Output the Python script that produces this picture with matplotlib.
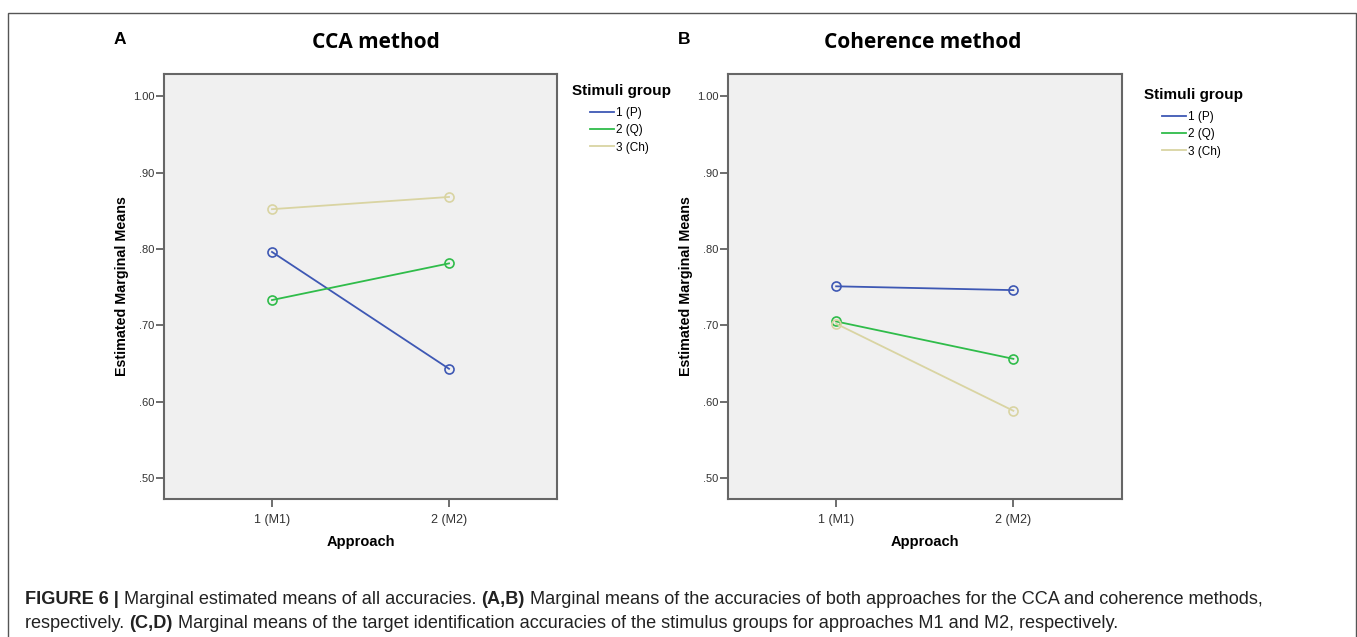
import matplotlib
matplotlib.use("Agg")
import matplotlib.pyplot as plt
from matplotlib.patches import Rectangle

# ---- data ----
approaches = ["1 (M1)", "2 (M2)"]
groups = ["1 (P)", "2 (Q)", "3 (Ch)"]
cca_P = [0.796, 0.643]
cca_Q = [0.733, 0.781]
cca_Ch = [0.852, 0.868]
coh_P = [0.751, 0.746]
coh_Q = [0.705, 0.656]
coh_Ch = [0.702, 0.588]
yticks = [0.50, 0.60, 0.70, 0.80, 0.90, 1.00]
ytick_labels = [".50", ".60", ".70", ".80", ".90", "1.00"]

colors = ["#3e58b4", "#2fbc4a", "#d9d4a2"]

W, H = 1357, 637
fig = plt.figure(figsize=(W / 100, H / 100), dpi=100)
fig.patch.set_facecolor("white")

# outer frame
fig.patches.append(Rectangle((8 / W, -0.01), (1356 - 8) / W, 1 - 12.7 / H + 0.01,
                             transform=fig.transFigure, fill=False,
                             edgecolor="#555555", linewidth=1.0))

panels = [
    dict(left=164, right=557, series=[cca_P, cca_Q, cca_Ch], title="CCA method",
         tx=376, letter="A", lx=120, legx=572, legy=91),
    dict(left=728, right=1121.5, series=[coh_P, coh_Q, coh_Ch], title="Coherence method",
         tx=923, letter="B", lx=684, legx=1144, legy=95),
]

top_px, bot_px = 74, 499
x = [1, 2]
for p in panels:
    ax = fig.add_axes([p["left"] / W, 1 - bot_px / H, (p["right"] - p["left"]) / W,
                       (bot_px - top_px) / H])
    ax.set_facecolor("#f0f0f0")
    lines = []
    for vals, c, g in zip(p["series"], colors, groups):
        ln, = ax.plot(x, vals, color=c, linewidth=1.3, marker="o", markersize=6.5,
                      markerfacecolor="none", markeredgecolor=c, markeredgewidth=1.2,
                      label=g)
        lines.append(ln)
    ax.set_xlim(0.39, 2.61)
    ax.set_ylim(0.4725, 1.029)
    ax.set_xticks(x)
    ax.set_xticklabels(approaches, fontsize=9, family="Liberation Sans", color="#333333")
    ax.set_yticks(yticks)
    ax.set_yticklabels(ytick_labels, fontsize=8, family="Liberation Sans", color="#333333")
    ax.tick_params(axis="both", direction="out", length=6, width=1.2, color="#555555",
                   top=False, right=False)
    ax.tick_params(axis="x", pad=5)
    ax.tick_params(axis="y", pad=1)
    for s in ax.spines.values():
        s.set_color("#666666")
        s.set_linewidth(1.5)
    ax.set_xlabel("Approach", fontsize=10.5, fontweight="bold", family="Liberation Sans",
                  labelpad=6)
    ax.set_ylabel("Estimated Marginal Means", fontsize=10.3, fontweight="bold",
                  family="Liberation Sans", labelpad=3)
    fig.text(p["tx"] / W, 1 - 42 / H, p["title"], ha="center", va="center",
             fontsize=15, fontweight="bold", family="Open Sans")
    fig.text(p["lx"] / W, 1 - 40 / H, p["letter"], ha="center", va="center",
             fontsize=12.5, fontweight="bold", family="Liberation Sans")
    fig.text(p["legx"] / W, 1 - p["legy"] / H, "Stimuli group", ha="left", va="center",
             fontsize=11, fontweight="bold", family="Liberation Sans")
    ax.legend(handles=lines, loc="upper left",
              bbox_to_anchor=((p["legx"] + 18) / W, 1 - (p["legy"] + 16) / H),
              bbox_transform=fig.transFigure, frameon=False,
              prop={"family": "Liberation Sans", "size": 8.5},
              handlelength=2.0, handletextpad=0.2, labelspacing=0.45,
              borderpad=0, borderaxespad=0)
    for h in ax.get_legend().legend_handles:
        h.set_marker("")

# caption
cap_font = "Liberation Sans"
cap_size = 13.1
y1 = 1 - 600 / H
y2 = 1 - 624 / H
t = fig.text(25 / W, y1, "FIGURE 6 | ", fontsize=cap_size, fontweight="bold",
             family=cap_font, va="center", color="#222222")
fig.canvas.draw()
r = fig.canvas.get_renderer()


def put(txt, xpix, y, bold=False):
    tt = fig.text(xpix / W, y, txt, fontsize=cap_size, family=cap_font,
                  fontweight="bold" if bold else "normal", va="center", color="#222222")
    bb = tt.get_window_extent(renderer=r)
    return bb.x1


xe = t.get_window_extent(renderer=r).x1
xe = put("Marginal estimated means of all accuracies. ", xe, y1)
xe = put("(A,B)", xe, y1, bold=True)
xe = put(" Marginal means of the accuracies of both approaches for the CCA and coherence methods,", xe, y1)
xe = put("respectively. ", 25, y2)
xe = put("(C,D)", xe, y2, bold=True)
xe = put(" Marginal means of the target identification accuracies of the stimulus groups for approaches M1 and M2, respectively.", xe, y2)

fig.savefig("out.png", dpi=100, facecolor="white")
